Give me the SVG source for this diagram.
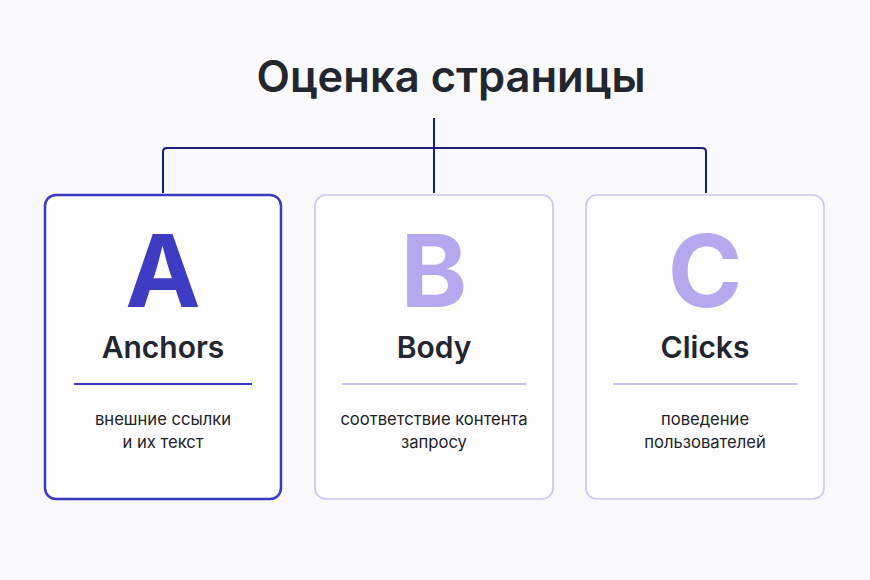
<svg xmlns="http://www.w3.org/2000/svg" width="870" height="580" viewBox="0 0 870 580">
<style>
.title{font-family:Inter,"Noto Sans",sans-serif;font-size:43.5px;font-weight:600;fill:#23262e;text-anchor:middle}
.letter{font-family:Inter,"Noto Sans",sans-serif;font-size:101px;font-weight:700;text-anchor:middle}
.name{font-family:Inter,"Noto Sans",sans-serif;font-size:30px;font-weight:600;fill:#23262e;text-anchor:middle}
.desc{font-family:Inter,"Noto Sans",sans-serif;font-size:16.6px;fill:#222329;text-anchor:middle}
.card{fill:#ffffff;fill-opacity:0.6}
.active{stroke:#3b39c0;stroke-width:2.5}
.soft{stroke:#cbc4f1;stroke-width:1.6}
.conn{fill:none;stroke:#1e1b78;stroke-width:2}
</style>
<rect width="870" height="580" fill="#f9f9fb"/>
<text class="title" x="451" y="92">Оценка страницы</text>
<g id="connectors">
<path class="conn" d="M434 118 V193"/>
<path class="conn" d="M163 193 V152 Q163 148 167 148 H702 Q706 148 706 152 V193"/>
</g>
<g id="node-a">
<rect class="card active" x="45" y="195" width="236" height="304" rx="11"/>
<text class="letter" x="163" y="307" fill="#3f3cc4">A</text>
<text class="name" x="163" y="358">Anchors</text>
<line x1="74" y1="384" x2="252" y2="384" stroke="#3b39c0" stroke-width="1.8"/>
<text class="desc" x="163" y="425">внешние ссылки</text>
<text class="desc" x="163" y="448">и их текст</text>
</g>
<g id="node-b">
<rect class="card soft" x="315" y="195" width="238" height="304" rx="11"/>
<text class="letter" x="434" y="307" fill="#b6a8ef">B</text>
<text class="name" x="434" y="358">Body</text>
<line x1="342" y1="384" x2="526" y2="384" stroke="#b2a8e8" stroke-width="1.6"/>
<text class="desc" x="434" y="425">соответствие контента</text>
<text class="desc" x="434" y="448">запросу</text>
</g>
<g id="node-c">
<rect class="card soft" x="586" y="195" width="238" height="304" rx="11"/>
<text class="letter" x="705" y="307" fill="#b6a8ef">C</text>
<text class="name" x="705" y="358">Clicks</text>
<line x1="613" y1="384" x2="797" y2="384" stroke="#b2a8e8" stroke-width="1.6"/>
<text class="desc" x="705" y="425">поведение</text>
<text class="desc" x="705" y="448">пользователей</text>
</g>
</svg>
